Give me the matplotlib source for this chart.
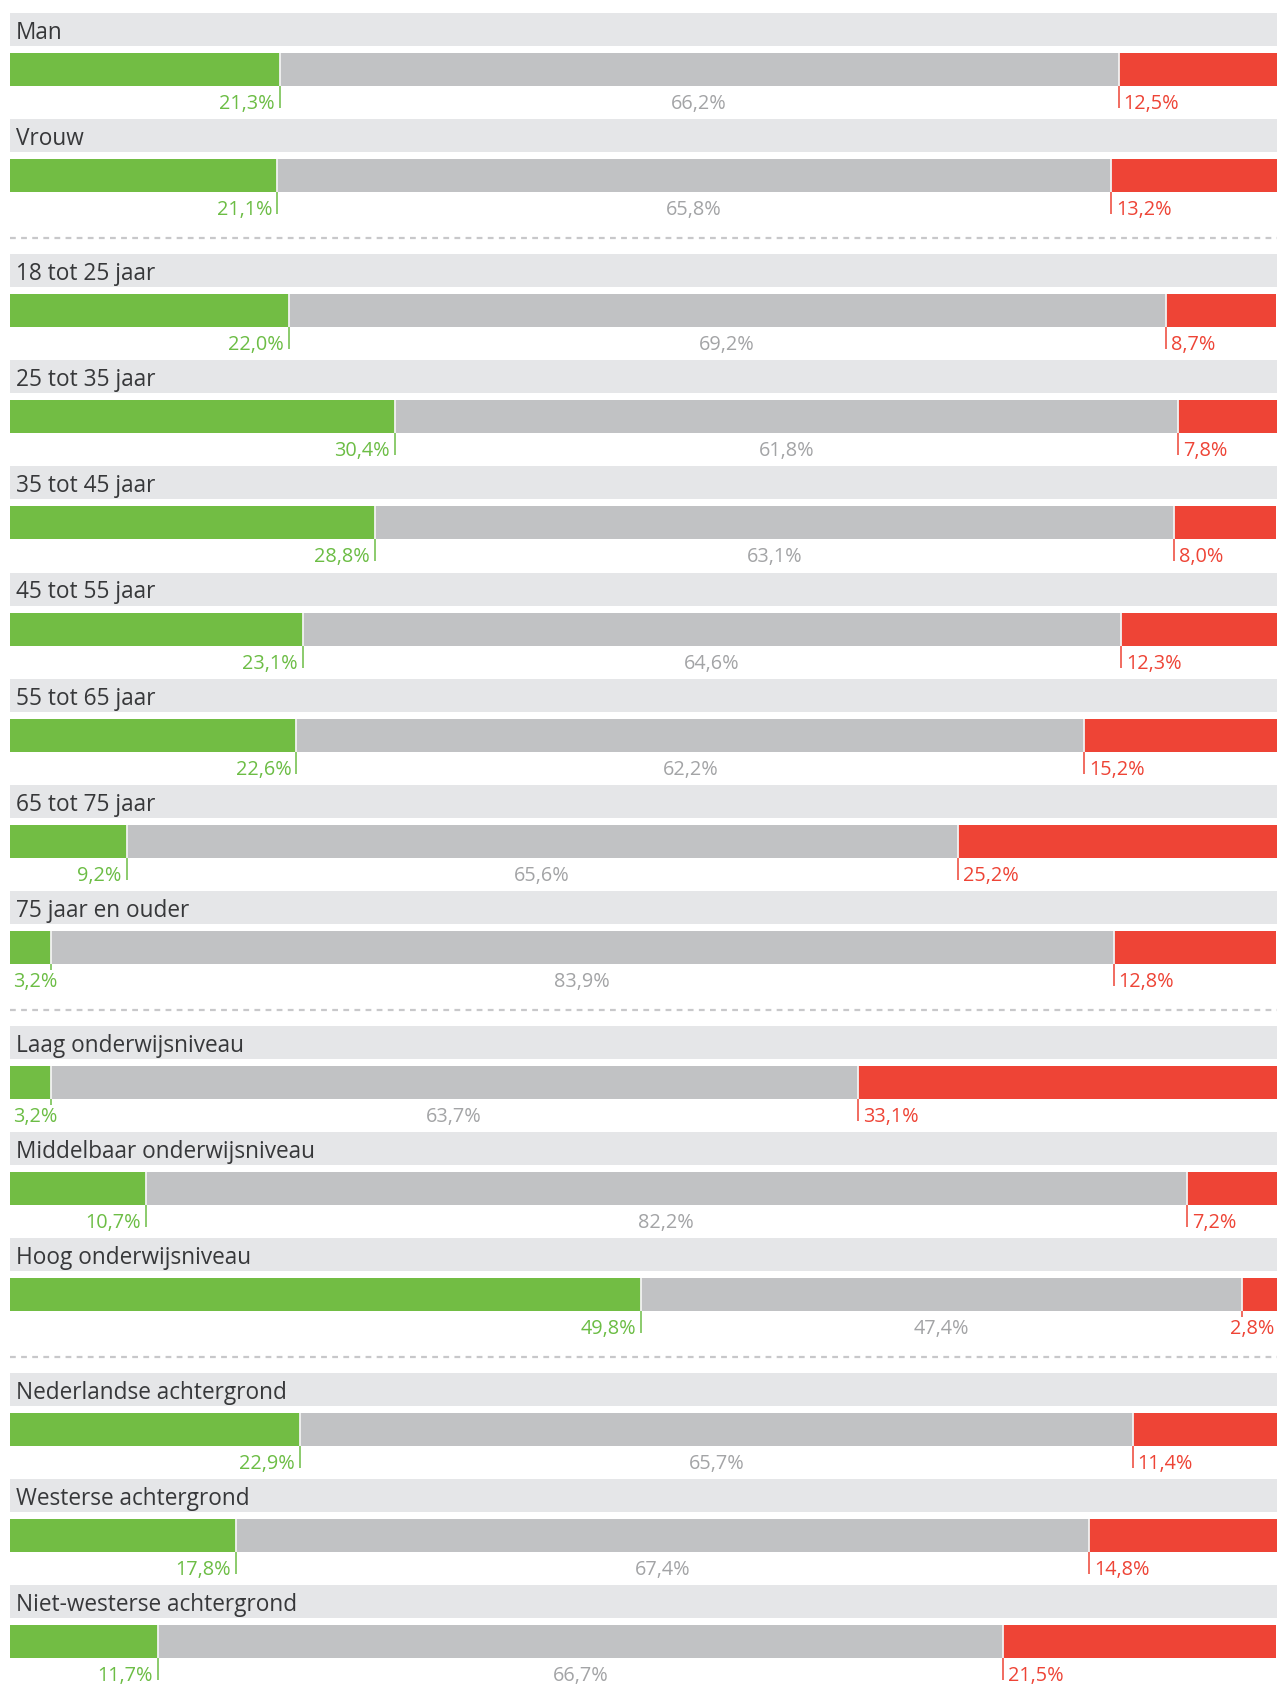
import numpy as np
import matplotlib
matplotlib.use("Agg")
import matplotlib.pyplot as plt

# categories per group (groups are split by a dashed line)
groups = [
    ["Man", "Vrouw"],
    ["18 tot 25 jaar", "25 tot 35 jaar", "35 tot 45 jaar", "45 tot 55 jaar",
     "55 tot 65 jaar", "65 tot 75 jaar", "75 jaar en ouder"],
    ["Laag onderwijsniveau", "Middelbaar onderwijsniveau", "Hoog onderwijsniveau"],
    ["Nederlandse achtergrond", "Westerse achtergrond", "Niet-westerse achtergrond"],
]

green = [21.3, 21.1, 22.0, 30.4, 28.8, 23.1, 22.6, 9.2, 3.2, 3.2, 10.7, 49.8, 22.9, 17.8, 11.7]
grey = [66.2, 65.8, 69.2, 61.8, 63.1, 64.6, 62.2, 65.6, 83.9, 63.7, 82.2, 47.4, 65.7, 67.4, 66.7]
red = [12.5, 13.2, 8.7, 7.8, 8.0, 12.3, 15.2, 25.2, 12.8, 33.1, 7.2, 2.8, 11.4, 14.8, 21.5]

C_GREEN = "#72bd44"
C_GREY = "#c1c2c4"
C_RED = "#ee4436"
C_BAND = "#e5e6e8"
C_HEAD = "#37383a"
C_GREYTXT = "#a3a4a6"
C_GREENTXT = "#6cbd45"
C_REDTXT = "#ee4436"

W, H = 1277, 1684
plt.rcParams["font.family"] = ["Open Sans", "DejaVu Sans"]

fig = plt.figure(figsize=(W / 100, H / 100), dpi=100)
fig.patch.set_facecolor("white")
ax = fig.add_axes([10 / W, 0, (W - 10) / W, 1])
ax.set_xlim(0, 100)
ax.set_ylim(H, 0)
ax.axis("off")


def px(n):
    # horizontal pixels -> percent units
    return n * 100 / (W - 10)


def fmt(v):
    return f"{v:.1f}%".replace(".", ",")


PITCH = 106.3
GAP = 28
top0 = 13
FS_HEAD = 16.3
FS_LAB = 14.3

i = 0
for g, names in enumerate(groups):
    if g > 0:
        sep_y = top0 + PITCH * i + GAP * g - 16
        ax.plot([0, 100], [sep_y, sep_y], color="#c8c8ca", lw=1.6,
                dashes=(2.6, 2.4), solid_capstyle="butt", clip_on=False)
    for name in names:
        t = top0 + PITCH * i + GAP * g
        # header band
        ax.barh(t, 100, height=33, left=0, align="edge", color=C_BAND, lw=0)
        ax.text(px(6), t + 26, name, fontsize=FS_HEAD, color=C_HEAD, va="baseline", ha="left")

        gv, mv, rv = green[i], grey[i], red[i]
        yb = t + 40
        ax.barh(yb, gv, height=33, left=0, align="edge", color=C_GREEN, lw=0)
        ax.barh(yb, mv, height=33, left=gv, align="edge", color=C_GREY, lw=0)
        ax.barh(yb, rv, height=33, left=gv + mv, align="edge", color=C_RED, lw=0)

        b1, b2 = gv, gv + mv
        for b in (b1, b2):
            ax.plot([b, b], [yb, yb + 33], color="#f2f2f2", lw=1.3, solid_capstyle="butt")

        ty = t + 96
        if gv < 6:
            ax.plot([b1, b1], [yb + 33, yb + 39], color=C_GREENTXT, lw=1.1, solid_capstyle="butt")
            ax.text(px(3), ty, fmt(gv), fontsize=FS_LAB, color=C_GREENTXT, ha="left", va="baseline")
        else:
            ax.plot([b1, b1], [yb + 33, yb + 55], color=C_GREENTXT, lw=1.1, solid_capstyle="butt")
            ax.text(b1 - px(5), ty, fmt(gv), fontsize=FS_LAB, color=C_GREENTXT, ha="right", va="baseline")
        ax.text((b1 + b2) / 2, ty, fmt(mv), fontsize=FS_LAB, color=C_GREYTXT, ha="center", va="baseline")
        if rv < 5:
            ax.plot([b2, b2], [yb + 33, yb + 39], color=C_REDTXT, lw=1.1, solid_capstyle="butt")
            ax.text(100 - px(3), ty, fmt(rv), fontsize=FS_LAB, color=C_REDTXT, ha="right", va="baseline")
        else:
            ax.plot([b2, b2], [yb + 33, yb + 55], color=C_REDTXT, lw=1.1, solid_capstyle="butt")
            ax.text(b2 + px(5), ty, fmt(rv), fontsize=FS_LAB, color=C_REDTXT, ha="left", va="baseline")
        i += 1

fig.savefig("out.png", dpi=100, facecolor="white")
